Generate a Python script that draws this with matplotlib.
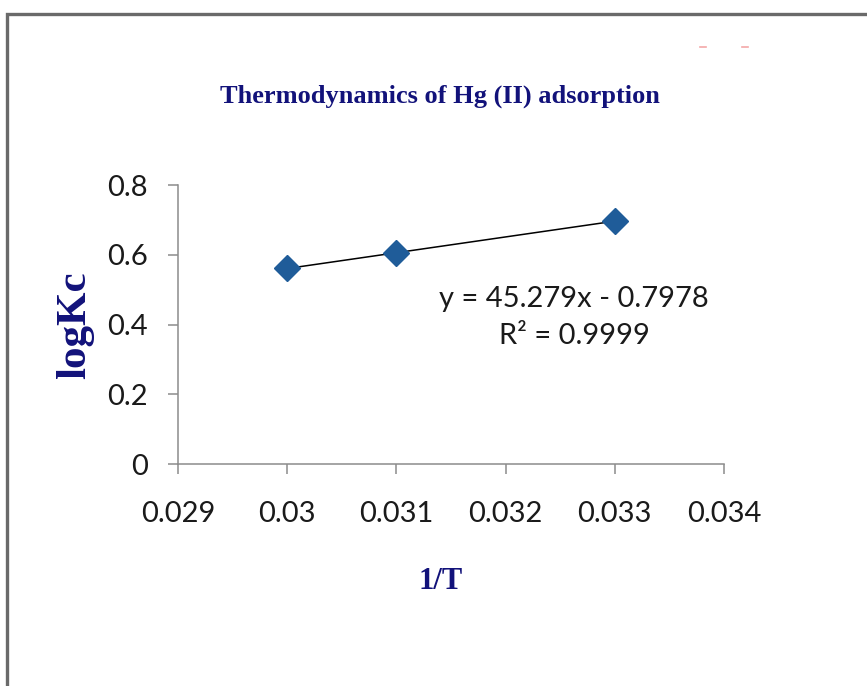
import numpy as np
import matplotlib
matplotlib.use("Agg")
import matplotlib.pyplot as plt
from matplotlib.patches import Rectangle
from matplotlib.lines import Line2D

# ── Data ──────────────────────────────────────────────────────────────────────
inv_T = [0.030, 0.031, 0.033]
log_kc = [0.561, 0.606, 0.696]
slope, intercept = 45.279, -0.7978
r2 = 0.9999

x_ticks = [0.029, 0.030, 0.031, 0.032, 0.033, 0.034]
x_ticklabels = ["0.029", "0.03", "0.031", "0.032", "0.033", "0.034"]
y_ticks = [0, 0.2, 0.4, 0.6, 0.8]
y_ticklabels = ["0", "0.2", "0.4", "0.6", "0.8"]

NAVY = "#12127a"
GREY = "#8c8c8c"
SANS = ["Lato", "DejaVu Sans"]
SERIF = ["Liberation Serif", "DejaVu Serif"]

# ── Figure ────────────────────────────────────────────────────────────────────
fig = plt.figure(figsize=(8.67, 6.86), dpi=100)
ax = fig.add_axes([0.2053, 0.3236, 0.6297, 0.4067])

# trendline over the fitted range
xs = np.array([min(inv_T), max(inv_T)])
ax.plot(xs, slope * xs + intercept, color="black", lw=1.1, zorder=2)
ax.plot(inv_T, log_kc, ls="none", marker="D", ms=13.5,
        color="#1f5c99", mec="#1f5c99", zorder=3)

ax.set_xlim(0.029, 0.034)
ax.set_ylim(0, 0.8)
ax.set_xticks(x_ticks)
ax.set_xticklabels(x_ticklabels, family=SANS, fontsize=21, color="#1a1a1a")
ax.set_yticks(y_ticks)
ax.set_yticklabels(y_ticklabels, family=SANS, fontsize=21, color="#1a1a1a")

for s in ["top", "right"]:
    ax.spines[s].set_visible(False)
for s in ["left", "bottom"]:
    ax.spines[s].set_color(GREY)
    ax.spines[s].set_linewidth(1.1)
ax.tick_params(axis="both", direction="out", length=7.5, width=1.1, color=GREY)
ax.tick_params(axis="x", pad=19)
ax.tick_params(axis="y", pad=14)

ax.text(0.03263, 0.42, f"y = {slope}x - {abs(intercept)}\nR² = {r2}",
        ha="center", va="center", family=SANS, fontsize=21,
        color="#1a1a1a", linespacing=1.5)

fig.text(0.508, 0.859, "Thermodynamics of Hg (II) adsorption", ha="center",
         va="center", family=SERIF, fontweight="bold", fontsize=19, color=NAVY)
fig.text(0.508, 0.153, "1/T", ha="center", va="center", family=SERIF,
         fontweight="bold", fontsize=22, color=NAVY)
fig.text(0.087, 0.526, "logKc", ha="center", va="center", rotation=90,
         family=SERIF, fontweight="bold", fontsize=31, color=NAVY)

# chart frame (runs off the right and bottom edges)
fig.patches.append(Rectangle((7 / 867, -0.1), 1.2, 1.1 - 14 / 686,
                             transform=fig.transFigure, fill=False,
                             ec="#6a6a6a", lw=2.4, clip_on=False))
# two faint marks near the top right
for xm in (703, 745):
    fig.add_artist(Line2D([(xm - 3) / 867, (xm + 3) / 867],
                          [1 - 47 / 686, 1 - 47 / 686],
                          color="#f4a8a8", lw=1.2))

fig.savefig("out.png", dpi=100)
